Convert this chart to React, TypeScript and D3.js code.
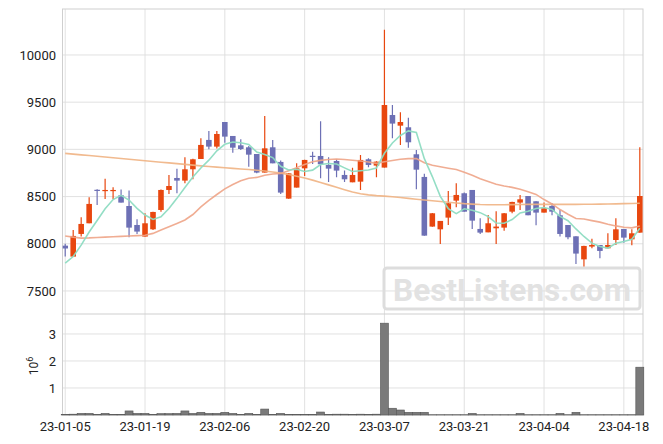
import React from "react";
import * as d3 from "d3";

const dates = [
  "23-01-05","23-01-06","23-01-09","23-01-10","23-01-11","23-01-12","23-01-13","23-01-16","23-01-17","23-01-18",
  "23-01-19","23-01-20","23-01-25","23-01-26","23-01-27","23-01-30","23-01-31","23-02-01","23-02-02","23-02-03",
  "23-02-06","23-02-07","23-02-08","23-02-09","23-02-10","23-02-13","23-02-14","23-02-15","23-02-16","23-02-17",
  "23-02-20","23-02-21","23-02-22","23-02-23","23-02-24","23-02-27","23-02-28","23-03-02","23-03-03","23-03-06",
  "23-03-07","23-03-08","23-03-09","23-03-10","23-03-13","23-03-14","23-03-15","23-03-16","23-03-17","23-03-20",
  "23-03-21","23-03-22","23-03-23","23-03-24","23-03-27","23-03-28","23-03-29","23-03-30","23-03-31","23-04-03",
  "23-04-04","23-04-05","23-04-06","23-04-07","23-04-10","23-04-11","23-04-12","23-04-13","23-04-14","23-04-17",
  "23-04-18","23-04-19","23-04-20",
];

const opens = [
  7980,7864,8104,8217,8572,8570,8570,8513,8400,8199,
  8076,8153,8358,8570,8697,8669,8789,8898,9100,9029,
  9290,9142,9043,9022,8951,8754,9022,8867,8478,8595,
  8799,8932,8930,8835,8877,8729,8651,8658,8895,8828,
  8807,9364,9251,9234,8948,8708,8182,8153,8277,8457,
  8535,8570,8157,8121,8164,8171,8340,8436,8506,8450,
  8330,8400,8302,8199,8079,7835,7970,7987,7952,8040,
  8157,8047,8118,
];
const highs = [
  8000,8146,8280,8492,8577,8690,8598,8575,8563,8259,
  8323,8340,8575,8729,8796,8916,8900,9117,9195,9195,
  9290,9142,9107,9036,8951,9354,9100,8881,8750,8852,
  8890,8976,9297,8916,8895,8775,8805,8941,8906,8875,
  10268,9470,9393,9336,8994,8743,8325,8242,8559,8641,
  8542,8570,8270,8305,8344,8325,8445,8517,8506,8450,
  8436,8429,8358,8200,8080,7980,8054,7987,8111,8270,
  8157,8153,9022,
];
const lows = [
  7864,7864,8076,8217,8411,8475,8475,8436,8068,8104,
  8076,8146,8340,8528,8535,8641,8683,8898,9001,9008,
  9071,8965,8994,8817,8747,8754,8852,8528,8478,8595,
  8718,8845,8694,8655,8704,8655,8651,8570,8810,8704,
  8807,9117,9047,9018,8577,8086,8180,7998,8199,8387,
  8340,8157,8104,8121,7998,8139,8323,8358,8302,8196,
  8330,8302,8076,8047,7786,7758,7952,7846,7952,7987,
  8012,7984,8118,
];
const closes = [
  7950,8083,8210,8422,8568,8570,8570,8436,8171,8129,
  8217,8337,8570,8612,8669,8789,8895,9047,9029,9163,
  9135,9018,9004,8944,8754,9011,8852,8542,8746,8799,
  8888,8925,8842,8796,8775,8683,8729,8888,8835,8870,
  9470,9273,9290,9075,8785,8086,8323,8242,8429,8517,
  8340,8245,8118,8217,8182,8323,8443,8471,8302,8330,
  8376,8340,8104,8069,7896,7977,7987,7924,7987,8153,
  8065,8111,8506,
];
// volume in millions
const volumes = [
  0.02,0.03,0.06,0.06,0.02,0.06,0.02,0.02,0.15,0.06,
  0.06,0.02,0.05,0.05,0.06,0.15,0.06,0.10,0.06,0.06,
  0.10,0.06,0.02,0.06,0.02,0.22,0.02,0.06,0.02,0.02,
  0.02,0.02,0.11,0.02,0.03,0.03,0.02,0.03,0.02,0.03,
  3.40,0.25,0.185,0.10,0.10,0.10,0.01,0.01,0.01,0.01,
  0.01,0.06,0.01,0.01,0.01,0.01,0.01,0.06,0.01,0.01,
  0.01,0.01,0.06,0.01,0.10,0.01,0.01,0.01,0.01,0.01,
  0.01,0.01,1.77,
];
// moving average values before a full window is available
const ma5Head = [7795, 7865, 7985, 8125];
const ma20Head = [
  8083,8070,8060,8062,8066,8070,8074,8078,8082,8086,
  8090,8110,8145,8180,8215,8252,8310,8390,8460,
];
// long moving average
const maLong = [
  8958,8950,8942,8935,8927,8919,8911,8903,8896,8888,
  8880,8872,8864,8857,8849,8841,8833,8825,8818,8812,
  8806,8799,8792,8786,8779,8771,8760,8748,8734,8716,
  8696,8674,8650,8624,8598,8572,8548,8530,8518,8510,
  8505,8498,8490,8481,8472,8464,8456,8448,8440,8432,
  8425,8420,8416,8414,8413,8414,8415,8416,8417,8417,
  8417,8417,8417,8417,8417,8418,8419,8420,8421,8423,
  8425,8427,8429,
];
const priceTicks = [7500, 8000, 8500, 9000, 9500, 10000];
const volTicks = [1, 2, 3];

function rolling(vals: number[], n: number, head: number[]) {
  return vals.map((_, i) =>
    i < n - 1 ? head[i] : d3.mean(vals.slice(i - n + 1, i + 1)) as number
  );
}

export default function App() {
  const W = 663, H = 444;
  const left = 62.5, right = 643;
  const mainTop = 9, mainBot = 314, volBot = 415;
  const n = closes.length;
  const x = d3.scaleLinear().domain([-0.34, 72.4]).range([left, right]);
  const y = d3.scaleLinear().domain([7256, 10487]).range([mainBot, mainTop]);
  const yv = d3.scaleLinear().domain([0, 3.74]).range([volBot, mainBot]);
  const ma5 = rolling(closes, 5, ma5Head);
  const ma20 = rolling(closes, 20, ma20Head);
  const idx = d3.range(n);
  const line = (arr: number[]) =>
    d3.line<number>().x((i) => x(i)).y((i) => y(arr[i]))(idx) as string;
  const up = "#e8470f";
  const down = "#6d70b5";
  const grid = "#dedede";
  const spine = "#cfcfcf";
  const font = "Roboto, 'DejaVu Sans', sans-serif";
  const step = x(1) - x(0);
  const bw = step * 0.7;
  const xTicks = d3.range(0, n, 10);
  return (
    <svg width={W} height={H} style={{ position: "absolute", left: 0, top: 0 }} fontFamily={font}>
      <rect width={W} height={H} fill="#fff" />
      <defs>
        <clipPath id="mainClip">
          <rect x={left} y={mainTop} width={right - left} height={mainBot - mainTop} />
        </clipPath>
      </defs>
      {/* grids */}
      {priceTicks.map((t) => (
        <line key={"pg" + t} x1={left} x2={right} y1={y(t)} y2={y(t)} stroke={grid} strokeWidth={0.9} />
      ))}
      {volTicks.map((t) => (
        <line key={"vg" + t} x1={left} x2={right} y1={yv(t)} y2={yv(t)} stroke={grid} strokeWidth={0.9} />
      ))}
      {xTicks.map((i) => (
        <line key={"xg" + i} x1={x(i)} x2={x(i)} y1={mainTop} y2={volBot} stroke={grid} strokeWidth={0.9} />
      ))}
      {/* watermark */}
      <rect x={384} y={268} width={256} height={41} rx={3} fill="none" stroke="#dddddd" strokeWidth={3} />
      <text x={512} y={301} textAnchor="middle" fontSize={31} fontWeight="bold" fill="#e2e2e2"
        textLength={238} lengthAdjust="spacingAndGlyphs">BestListens.com</text>
      {/* spines */}
      <rect x={left} y={mainTop} width={right - left} height={volBot - mainTop} fill="none" stroke={spine} strokeWidth={1} />
      <line x1={left} x2={right} y1={mainBot} y2={mainBot} stroke={spine} strokeWidth={1} />
      <g clipPath="url(#mainClip)">
        {/* candles */}
        {idx.map((i) => {
          const isUp = closes[i] >= opens[i];
          const c = isUp ? up : down;
          const top = y(Math.max(opens[i], closes[i]));
          const bot = y(Math.min(opens[i], closes[i]));
          return (
            <g key={"c" + i}>
              <line x1={x(i)} x2={x(i)} y1={y(highs[i])} y2={y(lows[i])} stroke={c} strokeWidth={1.2} />
              <rect x={x(i) - bw / 2} y={top} width={bw} height={Math.max(bot - top, 1.2)} fill={c} />
            </g>
          );
        })}
        {/* moving averages */}
        <path d={line(maLong)} fill="none" stroke="#f0b283" strokeWidth={1.6} strokeOpacity={0.9} />
        <path d={line(ma20)} fill="none" stroke="#eea487" strokeWidth={1.6} strokeOpacity={0.9} />
        <path d={line(ma5)} fill="none" stroke="#8edcc2" strokeWidth={1.6} strokeOpacity={0.95} />
      </g>
      {/* volume */}
      {idx.map((i) => (
        <rect key={"v" + i} x={x(i) - step / 2} y={yv(volumes[i])} width={step}
          height={volBot - yv(volumes[i])} fill="#7a7a7a" stroke="#555" strokeWidth={0.6} />
      ))}
      {/* axes labels */}
      {priceTicks.map((t) => (
        <text key={"pt" + t} x={56} y={y(t)} dy="0.35em" textAnchor="end" fontSize={13} fill="#222">{t}</text>
      ))}
      {volTicks.map((t) => (
        <text key={"vt" + t} x={56} y={yv(t)} dy="0.35em" textAnchor="end" fontSize={13} fill="#222">{t}</text>
      ))}
      {xTicks.map((i) => (
        <text key={"xt" + i} x={x(i)} y={431} textAnchor="middle" fontSize={13} fill="#222">{dates[i]}</text>
      ))}
      <text transform="translate(38,366) rotate(-90)" textAnchor="middle" fontSize={12} fill="#222">
        10<tspan dy={-5} fontSize={9}>6</tspan>
      </text>
    </svg>
  );
}
